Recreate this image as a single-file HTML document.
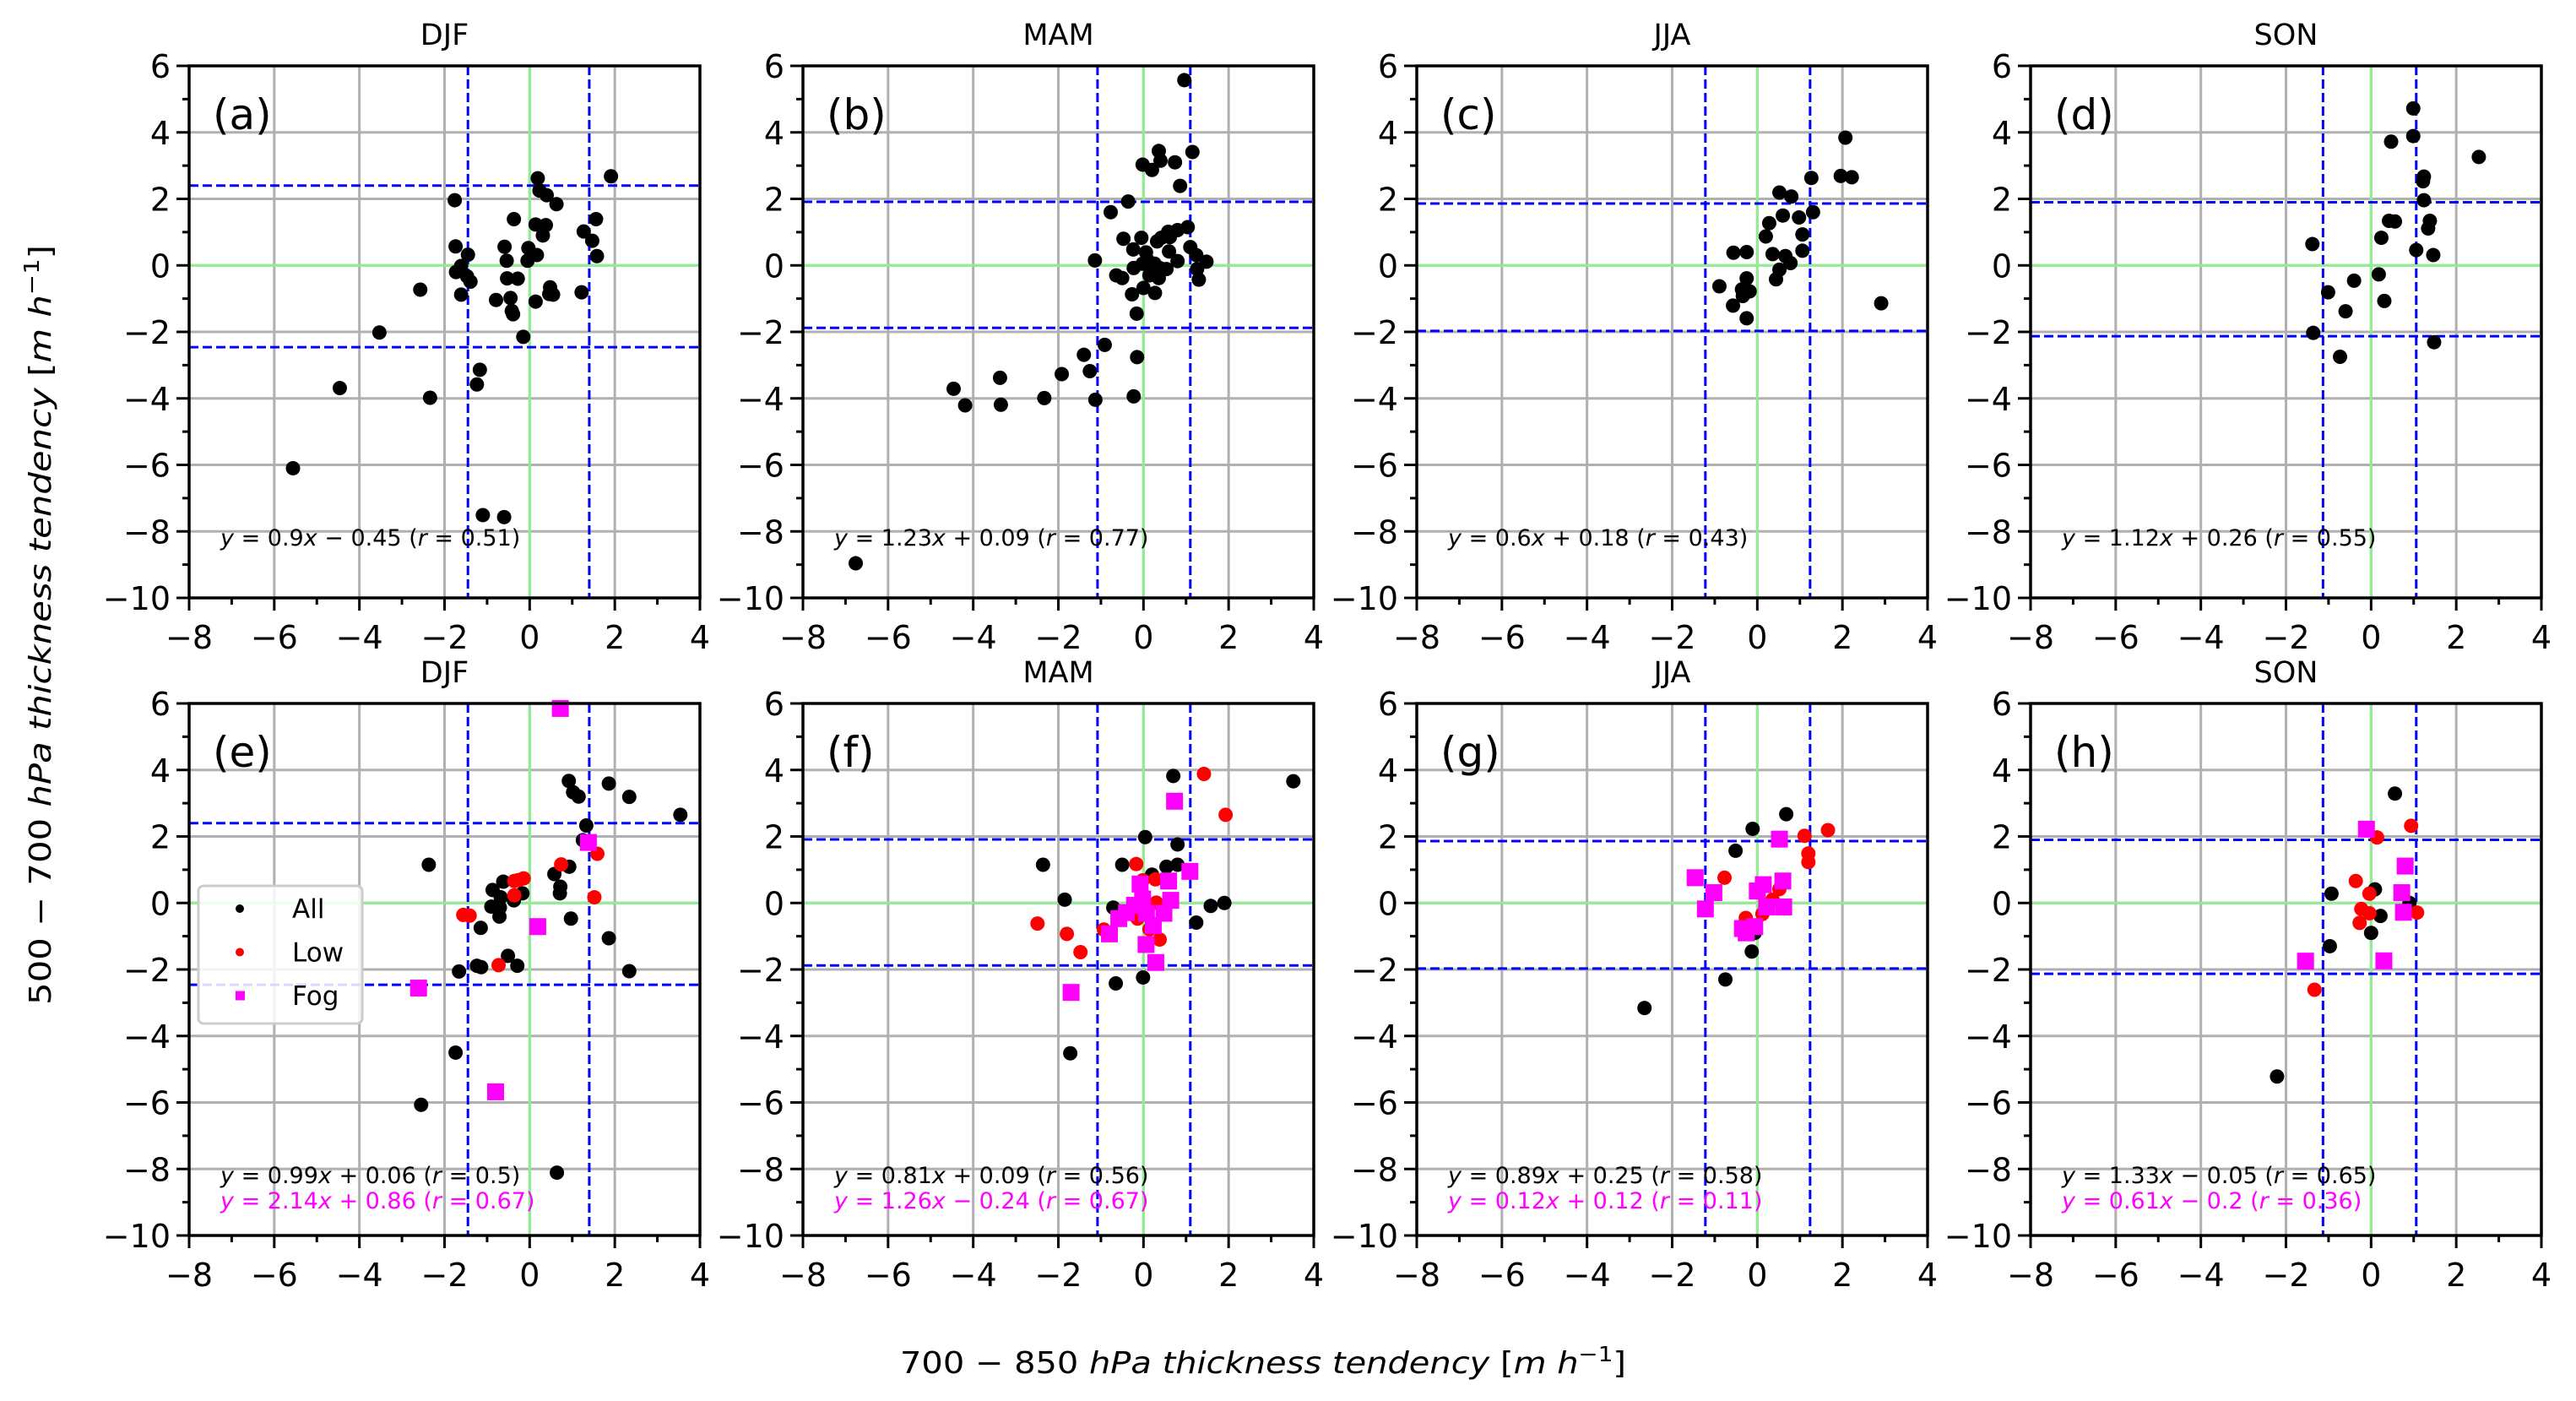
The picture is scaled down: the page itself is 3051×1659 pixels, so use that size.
<!DOCTYPE html>
<html><head><meta charset="utf-8"><style>
html,body{margin:0;padding:0;background:#fff;}
svg{display:block;font-family:"DejaVu Sans","Liberation Sans",sans-serif;}
</style></head><body>
<svg id="fig" width="3051" height="1659" viewBox="0 0 3051 1659" xmlns="http://www.w3.org/2000/svg">
<rect x="0" y="0" width="3051" height="1659" fill="#fff"/>
</svg>
<script>
// ---- data (x: 700-850 hPa tendency, y: 500-700 hPa tendency) ----
const xTicks = [-8,-6,-4,-2,0,2,4];
const yTicks = [-10,-8,-6,-4,-2,0,2,4,6];
const seasons = ["DJF","MAM","JJA","SON"];
const topLabels = ["(a)","(b)","(c)","(d)"];
const botLabels = ["(e)","(f)","(g)","(h)"];

const aPts = [[1.91,2.68],[0.19,2.62],[0.23,2.25],[0.40,2.11],[0.63,1.84],[-1.76,1.96],[-0.37,1.39],[1.56,1.39],[0.14,1.23],[0.38,1.21],[0.31,0.90],[1.27,1.02],[1.47,0.74],[1.58,0.28],[-1.74,0.57],[-1.45,0.32],[-0.59,0.56],[-0.03,0.52],[0.17,0.31],[-0.54,0.14],[-0.05,0.14],[-1.61,-0.02],[-1.73,-0.20],[-1.47,-0.33],[-1.39,-0.49],[-0.53,-0.39],[-0.28,-0.40],[-2.57,-0.73],[-1.61,-0.88],[-0.79,-1.04],[-0.45,-0.98],[-0.42,-1.37],[-0.39,-1.47],[0.14,-1.09],[0.48,-0.66],[0.46,-0.86],[0.55,-0.88],[1.22,-0.81],[-3.53,-2.02],[-0.15,-2.15],[-1.17,-3.14],[-1.24,-3.58],[-4.46,-3.69],[-2.34,-3.98],[-5.56,-6.10],[-1.10,-7.51],[-0.60,-7.57]];
const bPts = [[0.96,5.57],[1.15,3.41],[0.36,3.44],[0.40,3.15],[-0.02,3.03],[0.20,2.87],[0.74,3.10],[0.86,2.39],[-0.36,1.92],[-0.77,1.60],[-0.47,0.80],[-0.05,0.83],[0.32,0.72],[0.42,0.83],[0.58,1.01],[0.80,1.06],[1.04,1.15],[0.62,0.85],[-0.24,0.48],[0.06,0.39],[0.60,0.42],[1.10,0.55],[1.24,0.31],[1.48,0.11],[0.80,0.13],[-1.14,0.15],[-0.23,-0.08],[-0.02,0.05],[0.10,0.15],[0.26,0.05],[0.18,-0.15],[0.38,-0.08],[0.54,-0.11],[0.14,-0.30],[0.36,-0.38],[1.26,-0.11],[1.30,-0.43],[-0.64,-0.30],[-0.50,-0.38],[-0.27,-0.87],[0.00,-0.68],[0.27,-0.83],[-0.16,-1.45],[-0.91,-2.39],[-1.40,-2.69],[-0.15,-2.76],[-1.26,-3.18],[-1.92,-3.27],[-3.37,-3.38],[-4.46,-3.71],[-4.19,-4.21],[-3.35,-4.19],[-2.33,-3.99],[-1.13,-4.04],[-0.23,-3.94],[-6.76,-8.96]];
const cPts = [[2.07,3.84],[1.96,2.69],[2.22,2.65],[1.27,2.63],[0.52,2.19],[0.80,2.07],[1.31,1.60],[0.60,1.50],[0.98,1.44],[0.28,1.27],[0.20,0.87],[1.06,0.93],[-0.56,0.38],[-0.25,0.40],[0.36,0.34],[0.66,0.28],[1.06,0.44],[0.78,0.07],[0.52,-0.13],[0.44,-0.42],[-0.25,-0.39],[-0.89,-0.63],[-0.36,-0.72],[-0.18,-0.78],[-0.34,-0.92],[-0.57,-1.21],[-0.25,-1.59],[2.91,-1.14]];
const dPts = [[0.99,4.72],[0.99,3.89],[0.47,3.72],[2.53,3.26],[1.24,2.67],[1.22,2.53],[1.24,1.96],[0.42,1.34],[0.56,1.32],[1.38,1.34],[1.34,1.11],[0.24,0.83],[-1.38,0.64],[1.06,0.46],[1.46,0.31],[0.18,-0.27],[-0.40,-0.46],[-1.01,-0.81],[0.31,-1.07],[-0.60,-1.38],[-1.36,-2.03],[1.48,-2.31],[-0.73,-2.75]];

const eAll = [[0.92,3.67],[1.02,3.33],[1.15,3.20],[1.86,3.59],[2.34,3.19],[3.54,2.65],[1.33,2.33],[1.25,1.89],[-2.37,1.15],[0.93,1.09],[0.58,0.87],[0.72,0.49],[0.71,0.29],[-0.62,0.64],[-0.87,0.39],[-0.68,0.17],[-0.37,0.08],[-0.17,0.29],[-0.90,-0.11],[-0.70,-0.14],[-0.71,-0.41],[-1.15,-0.75],[0.97,-0.47],[1.86,-1.06],[-0.51,-1.59],[-1.24,-1.89],[-1.14,-1.93],[-0.29,-1.89],[-1.66,-2.06],[2.34,-2.05],[-1.74,-4.50],[-2.55,-6.07],[0.64,-8.11]];
const eLow = [[-1.56,-0.36],[-1.41,-0.38],[-0.36,0.66],[-0.26,0.69],[-0.14,0.74],[-0.36,0.23],[-0.73,-1.87],[0.74,1.16],[1.59,1.48],[1.52,0.17]];
const eFog = [[0.72,5.85],[1.38,1.82],[0.19,-0.71],[-2.61,-2.56],[-0.80,-5.68]];
const fAll = [[0.70,3.82],[3.52,3.66],[0.04,1.98],[0.80,1.76],[-2.36,1.15],[-0.50,1.15],[0.54,1.09],[0.80,1.15],[0.20,0.85],[-1.85,0.10],[-0.71,-0.14],[1.24,-0.59],[1.58,-0.09],[1.90,0.00],[-0.65,-2.42],[-0.01,-2.24],[-1.72,-4.52]];
const fLow = [[1.42,3.88],[1.93,2.65],[-0.17,1.17],[-0.02,0.68],[0.28,0.71],[0.30,0.01],[-2.49,-0.62],[-1.80,-0.93],[-1.48,-1.48],[-0.93,-0.80],[-0.14,-0.47],[0.14,-0.79],[0.38,-1.10]];
const fFog = [[0.73,3.06],[1.09,0.95],[0.59,0.66],[-0.08,0.57],[0.64,0.08],[-0.02,0.12],[-0.21,-0.07],[-0.40,-0.29],[0.07,-0.31],[0.48,-0.31],[-0.58,-0.47],[0.23,-0.68],[-0.80,-0.93],[0.06,-1.25],[0.29,-1.79],[-1.70,-2.69]];
const gAll = [[0.68,2.67],[-0.11,2.23],[-0.51,1.57],[-0.06,-0.90],[-0.13,-1.46],[-0.75,-2.30],[-2.65,-3.16]];
const gLow = [[1.66,2.19],[1.11,2.02],[1.20,1.49],[1.20,1.23],[-0.77,0.76],[0.52,0.42],[0.36,0.10],[0.12,-0.33],[-0.27,-0.45]];
const gFog = [[0.52,1.92],[-1.46,0.76],[0.60,0.66],[0.14,0.55],[0.00,0.36],[-1.02,0.31],[-1.22,-0.18],[0.22,-0.12],[0.62,-0.12],[-0.06,-0.71],[-0.35,-0.77],[-0.26,-0.90]];
const hAll = [[0.56,3.29],[-0.93,0.28],[0.09,0.41],[0.90,0.00],[0.22,-0.39],[0.00,-0.90],[-0.97,-1.30],[-2.21,-5.22]];
const hLow = [[0.94,2.32],[0.14,1.97],[-0.36,0.66],[-0.04,0.28],[-0.23,-0.18],[-0.04,-0.31],[-0.27,-0.60],[1.08,-0.29],[-1.33,-2.61]];
const hFog = [[-0.11,2.22],[0.80,1.11],[0.72,0.31],[0.76,-0.28],[-1.54,-1.75],[0.30,-1.74]];

// thresholds (dashed blue): [x-low, x-high], [y-high, y-low]
const threshX = [[-1.45,1.40],[-1.08,1.10],[-1.22,1.24],[-1.13,1.06]];
const threshY = [[2.40,-2.46],[1.91,-1.88],[1.86,-1.97],[1.90,-2.13]];

const eqTop = [["0.9","−","0.45","0.51"],["1.23","+","0.09","0.77"],["0.6","+","0.18","0.43"],["1.12","+","0.26","0.55"]];
const eqBotAll = [["0.99","+","0.06","0.5"],["0.81","+","0.09","0.56"],["0.89","+","0.25","0.58"],["1.33","−","0.05","0.65"]];
const eqBotFog = [["2.14","+","0.86","0.67"],["1.26","−","0.24","0.67"],["0.12","+","0.12","0.11"],["0.61","−","0.2","0.36"]];

// ---- layout ----
const NS = "http://www.w3.org/2000/svg";
const svg = document.getElementById("fig");
const colLeft = [224, 951, 1678, 2405];
const rowTop = [78, 833];
const PW = 605, PH = 630;
const XMIN = -8, XMAX = 4, YMIN = -10, YMAX = 6;

function mk(tag, attrs, parent) {
  const el = document.createElementNS(NS, tag);
  for (const k in attrs) el.setAttribute(k, attrs[k]);
  (parent || svg).appendChild(el);
  return el;
}

function drawPanel(col, row, title, label, series, eqs) {
  const L = colLeft[col], T = rowTop[row];
  const sx = v => L + (v - XMIN) / (XMAX - XMIN) * PW;
  const sy = v => T + (YMAX - v) / (YMAX - YMIN) * PH;
  const g = mk("g", {});
  
  

  xTicks.forEach(v => { const l = mk("line", {x1: sx(v), x2: sx(v), y1: T, y2: T + PH, stroke: "#b0b0b0", "stroke-width": 3}, g);
      });
  yTicks.forEach(v => { const l = mk("line", {x1: L, x2: L + PW, y1: sy(v), y2: sy(v), stroke: "#b0b0b0", "stroke-width": 3}, g);
      });
  const z1 = mk("line", {x1: sx(0), x2: sx(0), y1: T, y2: T + PH, stroke: "#90ee90", "stroke-width": 3}, g);
   
  const z2 = mk("line", {x1: L, x2: L + PW, y1: sy(0), y2: sy(0), stroke: "#90ee90", "stroke-width": 3}, g);
   
  threshX[col].forEach(v => { const l = mk("line", {x1: sx(v), x2: sx(v), y1: T, y2: T + PH, stroke: "#0000ff", "stroke-width": 3, "stroke-dasharray": "11 5"}, g);
      });
  threshY[col].forEach(v => { const l = mk("line", {x1: L, x2: L + PW, y1: sy(v), y2: sy(v), stroke: "#0000ff", "stroke-width": 3, "stroke-dasharray": "11 5"}, g);
      });

  eqs.forEach((e, i) => {
    const t = mk("text", {x: L + 37, y: T + 568 + i * 30, "font-size": 27, fill: e.color}, g);
    
    
    const d = e.v;
    t.innerHTML = '<tspan font-style="italic">y</tspan> = ' + d[0] + '<tspan font-style="italic">x</tspan> ' + d[1] + ' ' + d[2] + ' (<tspan font-style="italic">r</tspan> = ' + d[3] + ')';
  });

  series.forEach(s => {
    s.pts.forEach(p => {
      let m;
      if (s.shape === "sq") {
        m = mk("rect", {x: sx(p[0]) - 10, y: sy(p[1]) - 10, width: 20, height: 20, fill: s.color}, g);
      } else {
        m = mk("circle", {cx: sx(p[0]), cy: sy(p[1]), r: 8.5, fill: s.color}, g);
      }
      
      
    });
  });

  const fr = mk("rect", {x: L, y: T, width: PW, height: PH, fill: "none", stroke: "#000", "stroke-width": 3.5}, g);
   

  for (let v = XMIN; v <= XMAX; v++) {
    const major = v % 2 === 0;
    const tk = mk("line", {x1: sx(v), x2: sx(v), y1: T + PH, y2: T + PH + (major ? 15 : 8), stroke: "#000", "stroke-width": 3}, g);
     
  }
  for (let v = YMIN; v <= YMAX; v++) {
    const major = v % 2 === 0;
    const tk = mk("line", {x1: L - (major ? 15 : 8), x2: L, y1: sy(v), y2: sy(v), stroke: "#000", "stroke-width": 3}, g);
     
  }
  xTicks.forEach(v => {
    const t = mk("text", {x: sx(v), y: T + PH + 60, "font-size": 38, "text-anchor": "middle"}, g);
     
    t.textContent = v < 0 ? "−" + (-v) : String(v);
  });
  yTicks.forEach(v => {
    const t = mk("text", {x: L - 22, y: sy(v) + 14, "font-size": 38, "text-anchor": "end"}, g);
     
    t.textContent = v < 0 ? "−" + (-v) : String(v);
  });

  const tt = mk("text", {x: L + PW / 2, y: T - 25, "font-size": 35, "text-anchor": "middle"}, g);
   
  tt.textContent = title;
  const pl = mk("text", {x: L + 28, y: T + 75, "font-size": 50}, g);
   
  pl.textContent = label;
  return {sx, sy, L, T, g};
}

const topPts = [aPts, bPts, cPts, dPts];
const botAll = [eAll, fAll, gAll, hAll];
const botLow = [eLow, fLow, gLow, hLow];
const botFog = [eFog, fFog, gFog, hFog];

for (let c = 0; c < 4; c++) {
  drawPanel(c, 0, seasons[c], topLabels[c], [{pts: topPts[c], color: "#000", shape: "c", name: "all"}], [{v: eqTop[c], color: "#000"}]);
  drawPanel(c, 1, seasons[c], botLabels[c], [
    {pts: botAll[c], color: "#000", shape: "c", name: "all"},
    {pts: botLow[c], color: "#ff0000", shape: "c", name: "low"},
    {pts: botFog[c], color: "#ff00ff", shape: "sq", name: "fog"}
  ], [{v: eqBotAll[c], color: "#000"}, {v: eqBotFog[c], color: "#ff00ff"}]);
}

const lg = mk("g", {});
 
mk("rect", {x: 235, y: 1049, width: 194, height: 163, rx: 6, fill: "#fff", "fill-opacity": 0.85, stroke: "#cccccc", "stroke-width": 3}, lg);
const legItems = [["All", "#000", "c"], ["Low", "#ff0000", "c"], ["Fog", "#ff00ff", "sq"]];
legItems.forEach((it, i) => {
  const y = 1076 + i * 51.5;
  const e = mk("g", {}, lg);
  
  
  if (it[2] === "sq") mk("rect", {x: 279, y: y - 5.5, width: 11, height: 11, fill: it[1]}, e);
  else mk("circle", {cx: 284, cy: y, r: 5, fill: it[1]}, e);
  const t = mk("text", {x: 346, y: y + 11, "font-size": 31}, e);
  t.textContent = it[0];
});

const xl = mk("text", {x: 1496, y: 1626, "font-size": 36, "text-anchor": "middle", textLength: 860, lengthAdjust: "spacingAndGlyphs"});
 
xl.innerHTML = '700 − 850 <tspan font-style="italic">hPa thickness tendency</tspan> [<tspan font-style="italic">m h</tspan><tspan dy="-14" font-size="25">−1</tspan><tspan dy="14">]</tspan>';
const yl = mk("text", {x: 0, y: 0, "font-size": 36, "text-anchor": "middle", transform: "translate(60,740) rotate(-90)", textLength: 900, lengthAdjust: "spacingAndGlyphs"});
 
yl.innerHTML = '500 − 700 <tspan font-style="italic">hPa thickness tendency</tspan> [<tspan font-style="italic">m h</tspan><tspan dy="-14" font-size="25">−1</tspan><tspan dy="14">]</tspan>';
</script>
</body></html>
